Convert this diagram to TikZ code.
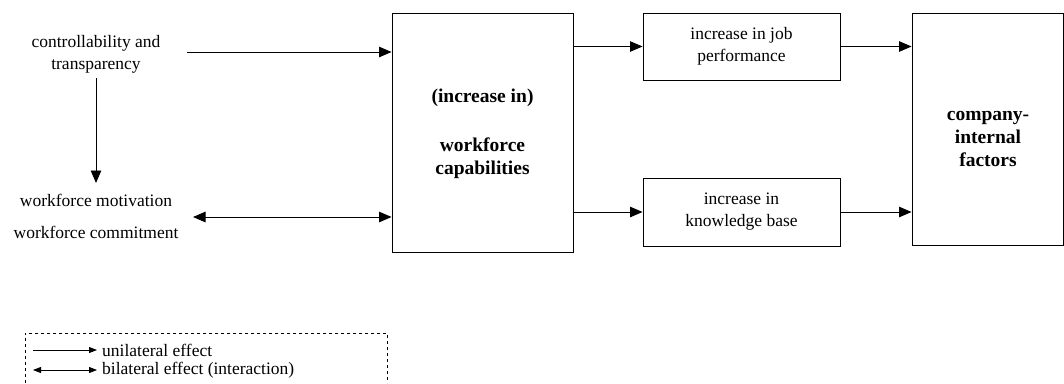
\documentclass[tikz,border=0pt]{standalone}
\usepackage{fontspec}
\setmainfont{Liberation Serif}
\usetikzlibrary{arrows.meta}
\begin{document}
\begin{tikzpicture}[x=1pt,y=-1pt,
  box/.style={draw,line width=0.9pt,inner sep=0pt},
  txt/.style={align=center,inner sep=0pt,font=\fontsize{17.5}{22}\selectfont},
  btxt/.style={align=center,inner sep=0pt,font=\fontsize{19.5}{23}\selectfont\bfseries},
  arr/.style={line width=0.9pt,-{Triangle[length=12.5pt,width=10.5pt]}},
  barr/.style={line width=0.9pt,{Triangle[length=12.5pt,width=10.5pt]}-{Triangle[length=12.5pt,width=10.5pt]}},
  larr/.style={line width=0.8pt,-{Triangle[length=8pt,width=6pt]}},
  lbarr/.style={line width=0.8pt,{Triangle[length=8pt,width=6pt]}-{Triangle[length=8pt,width=6pt]}}]
\useasboundingbox (0,0) rectangle (1064,383);

% boxes
\node[box,minimum width=181pt,minimum height=239pt] (cap) at (482.5,132.5) {};
\node[btxt] (captxt) at (482.5,134) {(increase in)\\[26pt]workforce\\capabilities};
\node[box,minimum width=197pt,minimum height=67pt,txt] (job) at (741.5,46.5) {increase in job\\performance};
\node[box,minimum width=197pt,minimum height=68pt,txt] (know) at (741.5,212) {increase in\\knowledge base};
\node[box,minimum width=151.5pt,minimum height=232pt] (comp) at (987.75,129) {};
\node[btxt] (comptxt) at (988,138.5) {company-\\internal\\factors};

% left-hand factors
\node[txt] (ctrl) at (96,54) {controllability and\\transparency};
\node[txt] (mot) at (96,200) {workforce motivation};
\node[txt] (com) at (96,232) {workforce commitment};
\coordinate (ctrlout) at (187,52);
\coordinate (ctrldown) at (96,78);
\coordinate (motin) at (96,183);
\coordinate (bil) at (193,217);

% connectors
\draw[arr] (ctrlout) -- (cap.west |- ctrlout);
\draw[arr] (ctrldown) -- (motin);
\draw[barr] (bil) -- (cap.west |- bil);
\draw[arr] (cap.east |- job.west) -- (job.west);
\draw[arr] (cap.east |- know.west) -- (know.west);
\draw[arr] (job.east) -- (comp.west |- job.east);
\draw[arr] (know.east) -- (comp.west |- know.east);

% legend
\draw[dashed,line width=0.7pt] (25,383) -- (25,333) -- (387,333) -- (387,383);
\coordinate (l1a) at (33,350);
\coordinate (l1b) at (97,350);
\coordinate (l2a) at (33,370);
\coordinate (l2b) at (97,370);
\draw[larr] (l1a) -- (l1b);
\draw[lbarr] (l2a) -- (l2b);
\node[txt,anchor=west] (uni) at (102,350) {unilateral effect};
\node[txt,anchor=west] (bila) at (102,370) {bilateral effect (interaction)};
\end{tikzpicture}
\end{document}
